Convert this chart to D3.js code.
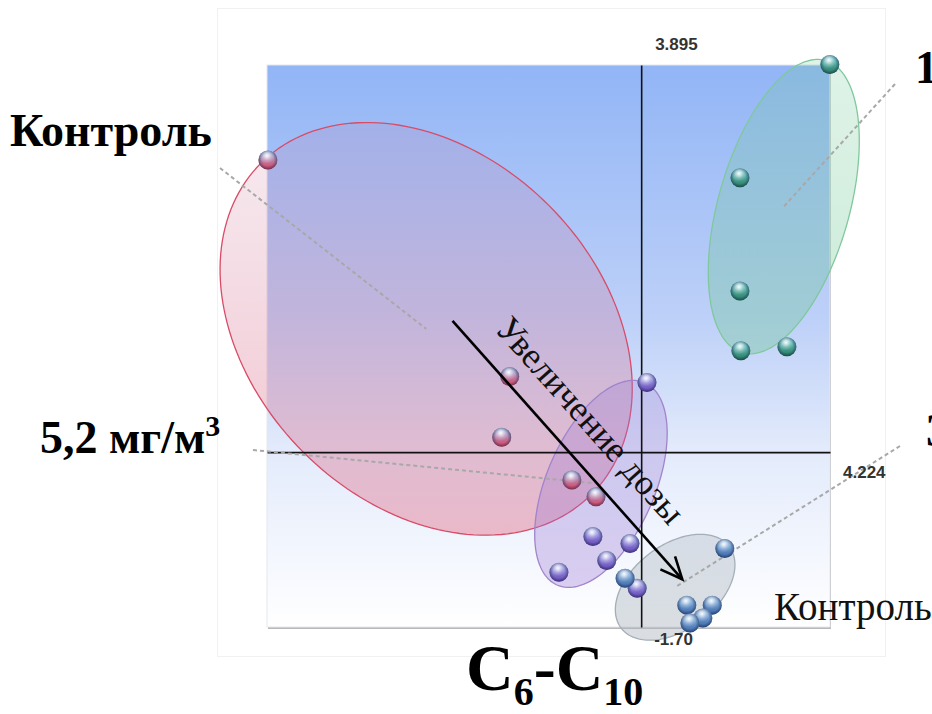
<!DOCTYPE html>
<html>
<head>
<meta charset="utf-8">
<script src="https://cdn.jsdelivr.net/npm/d3@7"></script>
<style>
  body { margin: 0; background: #fff; overflow: hidden; }
  svg { display: block; }
</style>
</head>
<body>
<svg id="chart"></svg>
<script>
// score plot, C6-C10 fraction
const groupKeys = ["red", "purple", "green", "gray"];

const pointsRed = [[-8.35, 2.94], [-2.94, 0.76], [-3.12, 0.15], [-1.55, -0.28], [-1.01, -0.45]];
const pointsPurple = [[0.13, 0.70], [-1.08, -0.85], [-0.25, -0.92], [-0.77, -1.09], [-1.84, -1.21], [-0.09, -1.37]];
const pointsGreen = [[4.22, 3.90], [2.21, 2.76], [2.21, 1.62], [2.23, 1.02], [3.26, 1.06]];
const pointsGray = [[1.87, -0.97], [-0.36, -1.27], [1.02, -1.54], [1.59, -1.54], [1.38, -1.67], [1.09, -1.72]];

// ellipses: centre, major axis vector, minor axis vector (score units)
const ellipseCenters = [[-4.81, 1.24], [-0.90, -0.32], [3.19, 2.47], [0.76, -1.36]];
const ellipseMajor = [[3.70, -1.665], [0.97, 1.02], [0.93, 1.47], [1.21, 0.41]];
const ellipseMinor = [[2.75, 1.24], [1.12, -0.21], [1.41, -0.18], [0.57, -0.34]];

const groupLabels = ["Контроль", "5,2 мг/м", "1", "3"];
const axisLabels = ["3.895", "4.224", "-1.70"];
const xDomain = [-8.37, 4.224];
const yDomain = [-1.76, 3.895];
const arrowFrom = [-4.22, 1.32], arrowTo = [0.92, -1.28];

const width = 932, height = 714;
const svg = d3.select("#chart").attr("width", width).attr("height", height);

const x = d3.scaleLinear().domain(xDomain).range([267, 830]);
const y = d3.scaleLinear().domain(yDomain).range([627, 65]);

const defs = svg.append("defs");

const bg = defs.append("linearGradient").attr("id", "bg")
  .attr("x1", 0).attr("y1", 0).attr("x2", 0).attr("y2", 1);
[[0, "#92b5f6"], [0.45, "#bdd0f8"], [0.68, "#e2eafb"], [1, "#ffffff"]].forEach(s =>
  bg.append("stop").attr("offset", s[0]).attr("stop-color", s[1]));

const ballColors = {
  red: ["#a4aedc", "#d8405e"],
  purple: ["#a4a6ec", "#6444b4"],
  green: ["#6cc4c8", "#24785c"],
  gray: ["#8cb6e4", "#3a66a6"]
};
groupKeys.forEach(k => {
  const g = defs.append("linearGradient").attr("id", "ball-" + k)
    .attr("x1", 0).attr("y1", 0).attr("x2", 0).attr("y2", 1);
  g.append("stop").attr("offset", 0.15).attr("stop-color", ballColors[k][0]);
  g.append("stop").attr("offset", 1).attr("stop-color", ballColors[k][1]);
});
const hl = defs.append("radialGradient").attr("id", "hl")
  .attr("cx", 0.45).attr("cy", 0.28).attr("r", 0.42);
hl.append("stop").attr("offset", 0).attr("stop-color", "#fff").attr("stop-opacity", 0.95);
hl.append("stop").attr("offset", 0.6).attr("stop-color", "#fff").attr("stop-opacity", 0.25);
hl.append("stop").attr("offset", 1).attr("stop-color", "#fff").attr("stop-opacity", 0);
const edge = defs.append("radialGradient").attr("id", "edge")
  .attr("cx", 0.5).attr("cy", 0.5).attr("r", 0.5);
edge.append("stop").attr("offset", 0.62).attr("stop-color", "#102040").attr("stop-opacity", 0);
edge.append("stop").attr("offset", 1).attr("stop-color", "#102040").attr("stop-opacity", 0.5);

const ellFill = {
  red: ["rgba(200,110,150,0.14)", "rgba(222,80,110,0.36)"],
  purple: ["rgba(150,120,210,0.28)", "rgba(150,110,210,0.32)"],
  green: ["rgba(110,200,150,0.22)", "rgba(100,195,140,0.35)"],
  gray: ["rgba(175,185,195,0.40)", "rgba(170,180,190,0.45)"]
};
const ellStroke = { red: "#d84c68", purple: "#a084cc", green: "#80c89c", gray: "#a4aeb6" };
groupKeys.forEach(k => {
  const g = defs.append("linearGradient").attr("id", "ell-" + k)
    .attr("x1", 0).attr("y1", 0).attr("x2", 0).attr("y2", 1);
  g.append("stop").attr("offset", 0).attr("stop-color", ellFill[k][0]);
  g.append("stop").attr("offset", 1).attr("stop-color", ellFill[k][1]);
});

// faint frame of the original panel
svg.append("rect").attr("x", 217.5).attr("y", 8.5).attr("width", 668).attr("height", 648)
  .attr("fill", "none").attr("stroke", "#f1f1f1");

// plot area
svg.append("rect").attr("x", x(xDomain[0]) + 1).attr("y", y(yDomain[1]) + 2)
  .attr("width", x(xDomain[1]) - x(xDomain[0])).attr("height", y(yDomain[0]) - y(yDomain[1]))
  .attr("fill", "#b8b8b8");
svg.append("rect").attr("x", x(xDomain[0])).attr("y", y(yDomain[1]))
  .attr("width", x(xDomain[1]) - x(xDomain[0])).attr("height", y(yDomain[0]) - y(yDomain[1]))
  .attr("fill", "url(#bg)").attr("stroke", "#e4e8ee").attr("stroke-width", 1);

// ellipses
const line = d3.line().curve(d3.curveLinearClosed);
const ellipseData = groupKeys.map((k, i) => ({ key: k, c: ellipseCenters[i], u: ellipseMajor[i], v: ellipseMinor[i] }));
svg.append("g").attr("class", "ellipses")
  .selectAll("path").data(ellipseData).join("path")
  .attr("d", d => line(d3.range(0, 2 * Math.PI, Math.PI / 90).map(t => {
    const px = d.c[0] + d.u[0] * Math.cos(t) + d.v[0] * Math.sin(t);
    const py = d.c[1] + d.u[1] * Math.cos(t) + d.v[1] * Math.sin(t);
    return [x(px), y(py)];
  })))
  .attr("fill", d => "url(#ell-" + d.key + ")")
  .attr("stroke", d => ellStroke[d.key])
  .attr("stroke-width", 1.3);

// axes through origin
svg.append("g").attr("transform", "translate(" + x(0) + ",0)")
  .call(d3.axisRight(y).tickValues([]).tickSizeOuter(0))
  .select(".domain").attr("stroke", "#111").attr("stroke-width", 1.6);
svg.append("g").attr("transform", "translate(0," + y(0) + ")")
  .call(d3.axisBottom(x).tickValues([]).tickSizeOuter(0))
  .select(".domain").attr("stroke", "#111").attr("stroke-width", 1.6);

// leader lines from labels to ellipse centres
const leaderFrom = [[220, 168], [253, 450], [895, 84], [900, 446]];
svg.append("g").selectAll("line").data(ellipseData).join("line")
  .attr("x1", (d, i) => leaderFrom[i][0]).attr("y1", (d, i) => leaderFrom[i][1])
  .attr("x2", d => x(d.c[0])).attr("y2", d => y(d.c[1]))
  .attr("stroke", "#a8a8a8").attr("stroke-width", 2).attr("stroke-dasharray", "4,3");

// points
const allPoints = [pointsRed, pointsPurple, pointsGreen, pointsGray]
  .flatMap((pts, i) => pts.map(p => ({ key: groupKeys[i], x: p[0], y: p[1] })));
const balls = svg.append("g").attr("class", "points")
  .selectAll("g").data(allPoints).join("g")
  .attr("transform", d => "translate(" + x(d.x) + "," + y(d.y) + ")");
balls.append("circle").attr("r", 9.5).attr("fill", d => "url(#ball-" + d.key + ")");
balls.append("circle").attr("r", 9.5).attr("fill", "url(#edge)");
balls.append("circle").attr("r", 9.5).attr("fill", "url(#hl)");

// dose arrow
const ax1 = x(arrowFrom[0]), ay1 = y(arrowFrom[1]), ax2 = x(arrowTo[0]), ay2 = y(arrowTo[1]);
const ang = Math.atan2(ay2 - ay1, ax2 - ax1);
svg.append("line").attr("x1", ax1).attr("y1", ay1).attr("x2", ax2).attr("y2", ay2)
  .attr("stroke", "#000").attr("stroke-width", 2.6);
const head = 24, spread = 0.42;
svg.append("path")
  .attr("d", "M" + (ax2 - head * Math.cos(ang - spread)) + "," + (ay2 - head * Math.sin(ang - spread)) +
    "L" + ax2 + "," + ay2 +
    "L" + (ax2 - head * Math.cos(ang + spread)) + "," + (ay2 - head * Math.sin(ang + spread)))
  .attr("fill", "none").attr("stroke", "#000").attr("stroke-width", 2.6);

const ux = Math.cos(ang), uy = Math.sin(ang);
const tx = ax1 + ux * 34 + uy * 25, ty = ay1 + uy * 34 - ux * 25;
svg.append("text")
  .attr("transform", "translate(" + tx + "," + ty + ") rotate(" + (ang * 180 / Math.PI) + ")")
  .attr("font-family", "'Liberation Serif', 'Times New Roman', serif")
  .attr("font-size", 36).attr("fill", "#111")
  .text("Увеличение дозы");

// axis end values
const axisText = svg.append("g")
  .attr("font-family", "'Liberation Sans', Arial, sans-serif")
  .attr("font-size", 17).attr("font-weight", "bold").attr("fill", "#333");
axisText.append("text").attr("x", x(0) + 14).attr("y", y(yDomain[1]) - 15).text(axisLabels[0]);
axisText.append("text").attr("x", x(xDomain[1]) + 13).attr("y", y(0) + 26).text(axisLabels[1]);
axisText.append("text").attr("x", x(0) + 13).attr("y", y(yDomain[0]) + 18).text(axisLabels[2]);

// group labels
const bold = "'Liberation Serif', 'Times New Roman', serif";
const lab = svg.append("g").attr("font-family", bold).attr("font-weight", "bold").attr("fill", "#000");
lab.append("text").attr("x", 10).attr("y", 146).attr("font-size", 46).text(groupLabels[0]);
const t52 = lab.append("text").attr("x", 40).attr("y", 453).attr("font-size", 46);
t52.append("tspan").text(groupLabels[1]);
t52.append("tspan").attr("font-size", 30).attr("dy", -17).text("3");
lab.append("text").attr("x", 915).attr("y", 83).attr("font-size", 46).text(groupLabels[2]);
lab.append("text").attr("x", 926).attr("y", 446).attr("font-size", 46).text(groupLabels[3]);

svg.append("text").attr("x", 774).attr("y", 620)
  .attr("font-family", bold).attr("font-size", 39).attr("fill", "#111")
  .text("Контроль");

// fraction title
const title = svg.append("text").attr("x", 466).attr("y", 690)
  .attr("font-family", bold).attr("font-weight", "bold").attr("font-size", 66).attr("fill", "#000");
title.append("tspan").text("C");
title.append("tspan").attr("font-size", 40).attr("dy", 15).text("6");
title.append("tspan").attr("dy", -15).text("-C");
title.append("tspan").attr("font-size", 40).attr("dy", 15).text("10");
</script>
</body>
</html>
